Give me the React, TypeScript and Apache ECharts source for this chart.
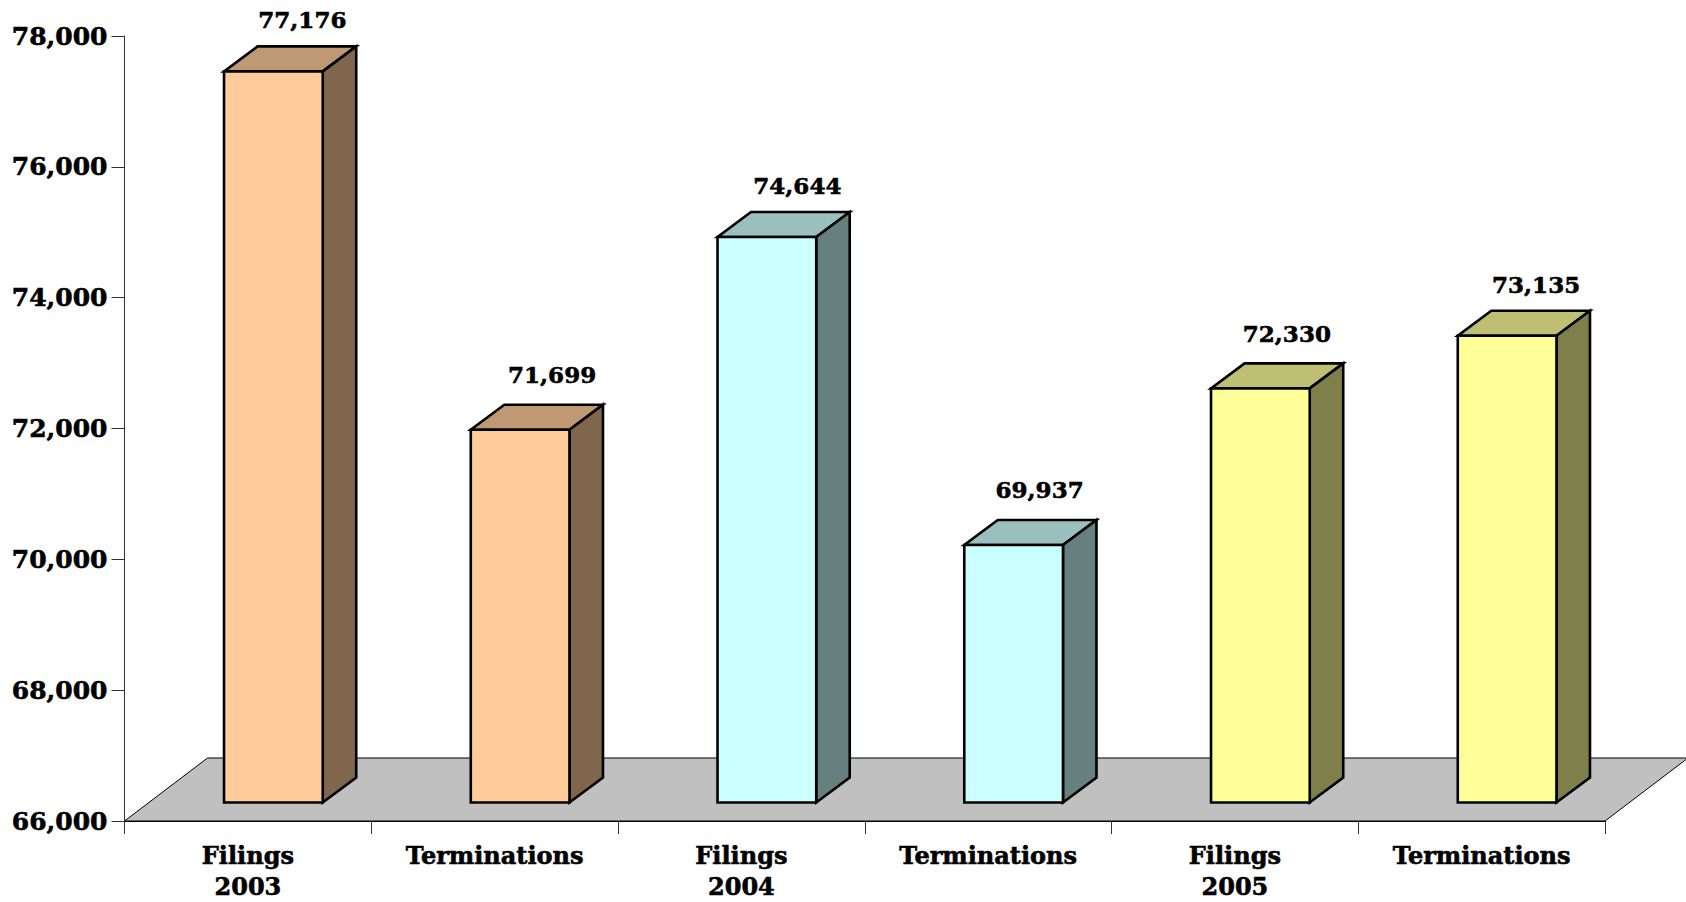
import React, { useEffect, useRef } from "react";
import * as echarts from "echarts";

const categories = ["Filings\n2003", "Terminations", "Filings\n2004", "Terminations", "Filings\n2005", "Terminations"];
const values = [77176, 71699, 74644, 69937, 72330, 73135];
const frontColors = ["#FFCC99", "#FFCC99", "#CCFFFF", "#CCFFFF", "#FFFF99", "#FFFF99"];
const topColors = ["#BF9973", "#BF9973", "#99BFBF", "#99BFBF", "#BFBF73", "#BFBF73"];
const sideColors = ["#7F664C", "#7F664C", "#667F7F", "#667F7F", "#7F7F4C", "#7F7F4C"];
const labelNudgeX = [0, 3, 1.5, -3, -2.5, 0];
const labelNudgeY = [1, -2, 1, -2, -2, 2];
const FONT = '"DejaVu Serif", serif';

const fmt = (v: number) => v.toLocaleString("en-US");

export default function App() {
  const ref = useRef<HTMLDivElement>(null);
  useEffect(() => {
    document.body.style.margin = "0";
    document.body.style.overflow = "hidden";
    const chart = echarts.init(ref.current!, null, { renderer: "svg" });
    const ax = 33.5, ay = 25; // bar depth
    const fx = 25.5, fy = 18.5; // front plane offset from the axis plane
    const floorX = 83, floorY = 63;
    const heavy = { textBorderColor: "#000", textBorderWidth: 0.6 };
    chart.setOption({
      animation: false,
      backgroundColor: "#fff",
      grid: { left: 124.5, right: 81, top: 36, bottom: 81, containLabel: false },
      xAxis: {
        type: "category",
        data: categories,
        axisLine: { show: true, lineStyle: { color: "#000", width: 1 } },
        axisTick: { show: true, length: 13, lineStyle: { color: "#333", width: 1 } },
        axisLabel: { color: "#000", fontFamily: FONT, fontWeight: "bold", fontSize: 24, lineHeight: 31, margin: 19, interval: 0, ...heavy },
      },
      yAxis: {
        type: "value",
        min: 66000,
        max: 78000,
        interval: 2000,
        splitLine: { show: false },
        axisLine: { show: true, lineStyle: { color: "#333", width: 1 } },
        axisTick: { show: true, length: 13, lineStyle: { color: "#333", width: 1 } },
        axisLabel: { color: "#000", fontFamily: FONT, fontWeight: "bold", fontSize: 25, margin: 17, formatter: (v: number) => fmt(v), ...heavy },
      },
      series: [
        {
          type: "custom",
          coordinateSystem: "cartesian2d",
          z: 1,
          silent: true,
          clip: false,
          data: [[0, 66000]],
          renderItem: (params: any) => {
            const { x, y, width, height } = params.coordSys;
            const b = y + height;
            return {
              type: "group",
              children: [
                {
                  type: "polygon",
                  shape: { points: [[x, b], [x + width, b], [x + width + floorX, b - floorY], [x + floorX, b - floorY]] },
                  style: { fill: "#C0C0C0", stroke: "#000", lineWidth: 1 },
                },
              ],
            };
          },
        },
        {
          type: "custom",
          coordinateSystem: "cartesian2d",
          z: 3,
          clip: false,
          encode: { x: 0, y: 1 },
          data: values.map((v, i) => [i, v]),
          renderItem: (params: any, api: any) => {
            const i = api.value(0);
            const v = api.value(1);
            const c = api.coord([i, v]);
            const base = api.coord([i, 66000]);
            const w = api.size([1, 0])[0] * 0.4;
            const l = c[0] + fx - w / 2;
            const r = l + w;
            const t = c[1] - fy;
            const bt = base[1] - fy;
            const line = { stroke: "#000", lineWidth: 2.6, lineJoin: "miter" };
            return {
              type: "group",
              children: [
                { type: "polygon", shape: { points: [[l, t], [r, t], [r + ax, t - ay], [l + ax, t - ay]] }, style: { fill: topColors[i], ...line } },
                { type: "polygon", shape: { points: [[r, t], [r + ax, t - ay], [r + ax, bt - ay], [r, bt]] }, style: { fill: sideColors[i], ...line } },
                { type: "rect", shape: { x: l, y: t, width: w, height: bt - t }, style: { fill: frontColors[i], ...line } },
                {
                  type: "text",
                  style: {
                    text: fmt(v),
                    x: l + w / 2 + 29 + labelNudgeX[i],
                    y: t - ay - 28 + labelNudgeY[i],
                    fill: "#000",
                    font: `bold 23px ${FONT}`,
                    align: "center",
                    verticalAlign: "middle",
                    stroke: "#000",
                    lineWidth: 0.6,
                  },
                },
              ],
            };
          },
        },
      ],
    });
    return () => chart.dispose();
  }, []);
  return <div ref={ref} style={{ width: 1686, height: 902 }} />;
}
